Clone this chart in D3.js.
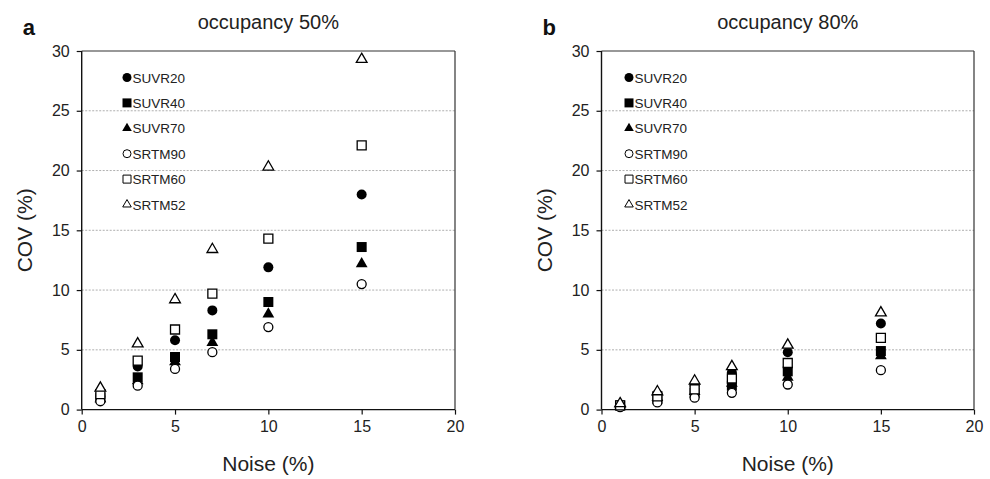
<!DOCTYPE html>
<html>
<head>
<meta charset="utf-8">
<script src="https://cdn.jsdelivr.net/npm/d3@7"></script>
<style>
  html, body { margin: 0; padding: 0; background: #fff; }
  svg { display: block; font-family: "Liberation Sans", Arial, sans-serif; }
</style>
</head>
<body>
<svg id="chart" width="990" height="479"></svg>
<script>
const noise = [1, 3, 5, 7, 10, 15];
const seriesNames = ["SUVR20", "SUVR40", "SUVR70", "SRTM90", "SRTM60", "SRTM52"];
const seriesShapes = ["circle", "square", "triangle", "circle", "square", "triangle"];
const seriesFilled = [true, true, true, false, false, false];

const occ50_SUVR20 = [1.1, 3.6, 5.8, 8.3, 11.9, 18.0];
const occ50_SUVR40 = [1.0, 2.7, 4.4, 6.3, 9.0, 13.6];
const occ50_SUVR70 = [0.9, 2.4, 4.0, 5.6, 8.0, 12.2];
const occ50_SRTM90 = [0.7, 2.0, 3.4, 4.8, 6.9, 10.5];
const occ50_SRTM60 = [1.3, 4.1, 6.7, 9.7, 14.3, 22.1];
const occ50_SRTM52 = [1.8, 5.5, 9.2, 13.4, 20.3, 29.3];

const occ80_SUVR20 = [0.4, 1.3, 2.0, 3.1, 4.8, 7.2];
const occ80_SUVR40 = [0.35, 0.9, 1.4, 2.0, 3.2, 4.9];
const occ80_SUVR70 = [0.4, 1.0, 1.5, 2.2, 2.7, 4.5];
const occ80_SRTM90 = [0.2, 0.6, 1.0, 1.4, 2.1, 3.3];
const occ80_SRTM60 = [0.35, 1.1, 1.7, 2.6, 3.9, 6.0];
const occ80_SRTM52 = [0.5, 1.5, 2.4, 3.6, 5.4, 8.1];

const xTicks = [0, 5, 10, 15, 20];
const yTicks = [0, 5, 10, 15, 20, 25, 30];
const gridValues = [5, 10, 15, 20, 25];

const panels = [
  { letter: "a", title: "occupancy 50%", left: 81.7, right: 455,
    series: [occ50_SUVR20, occ50_SUVR40, occ50_SUVR70, occ50_SRTM90, occ50_SRTM60, occ50_SRTM52],
    legendX: 127 },
  { letter: "b", title: "occupancy 80%", left: 601.5, right: 974,
    series: [occ80_SUVR20, occ80_SUVR40, occ80_SUVR70, occ80_SRTM90, occ80_SRTM60, occ80_SRTM52],
    legendX: 629 }
];

const svg = d3.select("#chart");
const plotTop = 51, plotBottom = 409.6;

function markerPath(shape, size) {
  const sym = shape === "circle" ? d3.symbolCircle : shape === "square" ? d3.symbolSquare : d3.symbolTriangle;
  let area;
  if (shape === "circle") area = Math.PI * (size / 2) * (size / 2);
  else if (shape === "square") area = size * size;
  else area = (Math.sqrt(3) / 4) * size * size * 1.15;
  return d3.symbol().type(sym).size(area)();
}

panels.forEach(p => {
  const x = d3.scaleLinear().domain([0, 20]).range([p.left, p.right]);
  const y = d3.scaleLinear().domain([0, 30]).range([plotBottom, plotTop]);
  const g = svg.append("g");

  // gridlines
  g.selectAll("line.grid").data(gridValues).enter().append("line")
    .attr("x1", p.left).attr("x2", p.right)
    .attr("y1", d => y(d)).attr("y2", d => y(d))
    .attr("stroke", "#9a9a9a").attr("stroke-width", 0.8)
    .attr("stroke-dasharray", "2,1.5");

  // frame top & right
  g.append("line").attr("x1", p.left).attr("x2", p.right).attr("y1", plotTop).attr("y2", plotTop)
    .attr("stroke", "#333").attr("stroke-width", 1.2);
  g.append("line").attr("x1", p.right).attr("x2", p.right).attr("y1", plotTop).attr("y2", plotBottom)
    .attr("stroke", "#333").attr("stroke-width", 1.2);

  // axes
  const xAxis = d3.axisBottom(x).tickValues(xTicks).tickSize(5).tickPadding(6).tickFormat(d3.format("d"));
  const yAxis = d3.axisLeft(y).tickValues(yTicks).tickSize(5).tickPadding(7).tickFormat(d3.format("d"));
  const gx = g.append("g").attr("transform", `translate(0,${plotBottom})`).call(xAxis);
  const gy = g.append("g").attr("transform", `translate(${p.left},0)`).call(yAxis);
  [gx, gy].forEach(a => {
    a.select(".domain").attr("stroke", "#111").attr("stroke-width", 1.4);
    a.selectAll(".tick line").attr("stroke", "#111").attr("stroke-width", 1.2);
    a.selectAll(".tick text").attr("font-size", 16).attr("fill", "#222")
      .attr("font-family", "'Liberation Sans', Arial, sans-serif");
  });
  gx.select(".domain").attr("d", `M${p.left},0H${p.right}`);
  gy.select(".domain").attr("d", `M0,${plotBottom}V${plotTop}`);

  // markers
  p.series.forEach((vals, si) => {
    const shape = seriesShapes[si];
    const size = shape === "triangle" ? 11 : 10;
    g.selectAll(null).data(vals).enter().append("path")
      .attr("d", markerPath(shape, seriesFilled[si] ? size : size - 1))
      .attr("transform", (d, i) => `translate(${x(noise[i])},${y(d)})`)
      .attr("fill", seriesFilled[si] ? "#000" : "#fff")
      .attr("stroke", "#000").attr("stroke-width", seriesFilled[si] ? 0 : 1.3);
  });

  // legend
  const legendY0 = 77.5, legendStep = 25.4;
  seriesNames.forEach((name, si) => {
    const ly = legendY0 + si * legendStep;
    const shape = seriesShapes[si];
    g.append("path")
      .attr("d", markerPath(shape, seriesFilled[si] ? 9 : 8))
      .attr("transform", `translate(${p.legendX},${ly})`)
      .attr("fill", seriesFilled[si] ? "#000" : "#fff")
      .attr("stroke", "#000").attr("stroke-width", seriesFilled[si] ? 0 : 1);
    g.append("text").attr("x", p.legendX + 5.5).attr("y", ly + 5)
      .attr("font-size", 13.5).attr("fill", "#222").text(name);
  });

  // titles
  const cx = (p.left + p.right) / 2;
  g.append("text").attr("x", cx).attr("y", 29).attr("text-anchor", "middle")
    .attr("font-size", 20).attr("fill", "#222").text(p.title);
  g.append("text").attr("x", p.left - 59).attr("y", 35)
    .attr("font-size", 22).attr("font-weight", "bold").attr("fill", "#111").text(p.letter);
  g.append("text").attr("x", cx).attr("y", 471).attr("text-anchor", "middle")
    .attr("font-size", 21).attr("fill", "#222").text("Noise (%)");
  g.append("text").attr("transform", `translate(${p.left - 50},${(plotTop + plotBottom) / 2}) rotate(-90)`)
    .attr("text-anchor", "middle").attr("font-size", 21).attr("fill", "#222").text("COV (%)");
});
</script>
</body>
</html>
